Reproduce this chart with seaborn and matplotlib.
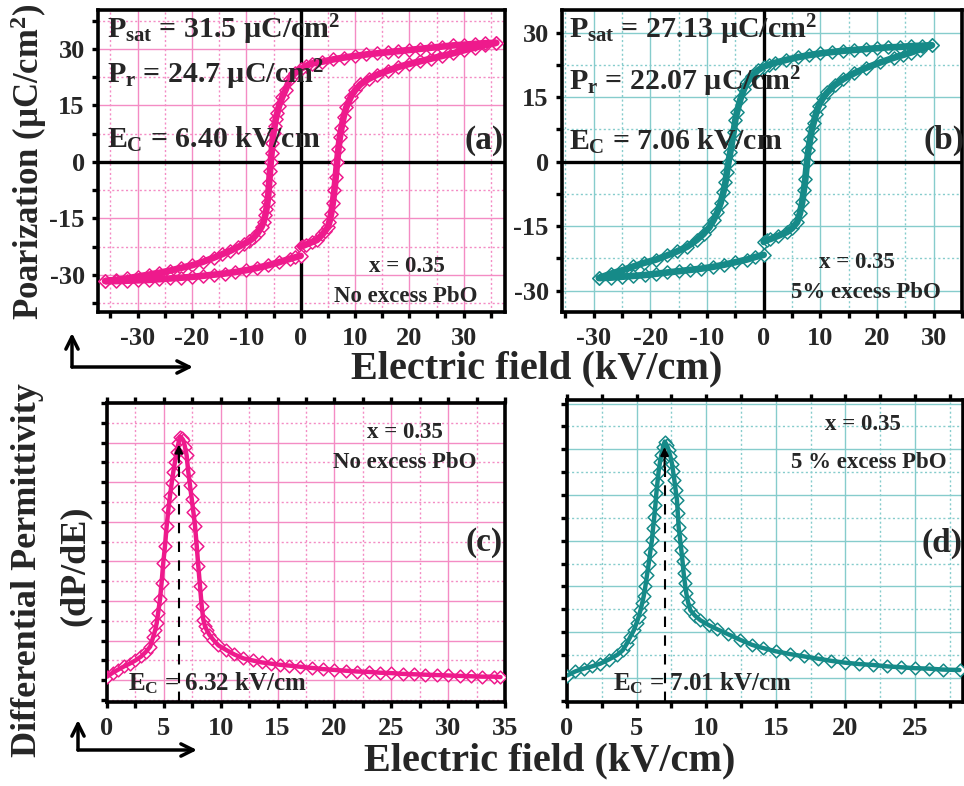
import numpy as np
import pandas as pd
import matplotlib
matplotlib.use("Agg")
import matplotlib.pyplot as plt
from matplotlib.ticker import MultipleLocator, NullFormatter
from matplotlib.patches import FancyArrowPatch
import seaborn as sns

# ---------------- data ----------------
# (a) x = 0.35, no excess PbO : P-E loop, measured 0 -> +Emax -> -Emax -> 0
E_a_up1 = [0, 0.5, 1, 2, 3, 4, 4.5, 5, 5.3, 5.6, 5.9, 6.2, 6.45, 6.7, 6.95, 7.2, 7.5, 7.9, 8.4, 9.2,
           10, 11, 12.5, 14, 16, 18, 20, 22, 24, 26, 28, 30, 32, 34, 36]
P_a_up1 = [-22.5, -22.2, -21.9, -21.3, -20.7, -19.2, -18.3, -17.3, -15.8, -13.8, -11.0, -7.5, -4.0, 0, 3.5,
           6.5, 9.0, 12.0, 14.5, 17.2, 19.0, 20.6, 22.0, 23.1, 24.2, 25.2, 26.0, 26.7, 27.4, 28.1,
           28.8, 29.6, 30.3, 31.0, 31.6]
E_a_down = [36, 34, 32, 30, 28, 26, 24, 22, 20, 18, 16, 14, 12, 10, 8, 6, 4, 2, 1, 0,
            -1, -2, -2.75, -3.4, -4.0, -4.3, -4.6, -4.8, -5.0, -5.2, -5.35, -5.5, -5.65, -5.8, -5.95,
            -6.1, -6.3, -6.5, -6.8, -7.2, -7.9, -8.6, -9.5, -10.5, -11.6, -13, -14.5, -16, -18, -20,
            -22, -24, -26, -28, -30, -32, -34, -36]
P_a_down = [31.6, 31.5, 31.3, 31.1, 30.9, 30.6, 30.3, 30.0, 29.7, 29.4, 29.1, 28.8, 28.5, 28.1, 27.7,
            27.2, 26.6, 26.1, 25.5, 24.7, 23.6, 22.0, 19.2, 17.2, 14.8, 13.0, 11.3, 9.5, 7.8, 5.0,
            2.5, 0, -2.5, -5.5, -8.5, -10.5, -12.5, -14.0, -15.8, -17.2, -18.8, -20.0, -21.0, -21.8,
            -22.6, -23.6, -24.5, -25.4, -26.5, -27.4, -28.1, -28.8, -29.4, -29.9, -30.4, -30.9,
            -31.3, -31.6]
E_a_up2 = [-36, -34, -32, -30, -28, -26, -24, -22, -20, -18, -16, -14, -12, -10, -8, -6, -4, -2, -1, 0]
P_a_up2 = [-31.6, -31.6, -31.5, -31.4, -31.3, -31.1, -30.9, -30.7, -30.5, -30.2, -29.9, -29.6, -29.2,
           -28.7, -28.1, -27.4, -26.6, -25.7, -25.3, -24.9]

# (b) x = 0.35, 5% excess PbO : P-E loop
E_b_up1 = [0, 0.5, 1.2, 2.5, 4.1, 5.0, 5.9, 6.4, 6.8, 7.1, 7.35, 7.65, 7.9, 8.2, 8.5, 8.8, 9.2, 9.7,
           10.4, 11.2, 12.5, 14, 16, 18, 20.6, 23, 24.5, 26, 27.5, 29.7]
P_b_up1 = [-18.7, -18.3, -18.0, -17.3, -16.4, -15.5, -14.1, -12.0, -9.4, -6.5, -4.0, 0, 2.8, 5.3, 7.5,
           9.0, 11.0, 13.0, 14.7, 16.1, 17.8, 19.2, 20.6, 21.8, 23.1, 24.2, 24.8, 25.4, 26.1, 27.1]
E_b_down = [29.7, 28, 26, 24, 22, 20, 18, 16, 14, 12, 10, 8, 6, 4, 2, 1, 0, -1, -2, -2.9, -3.5, -4.1,
            -4.7, -5.0, -5.3, -5.6, -5.9, -6.2, -6.5, -6.75, -7.1, -7.6, -8.2, -8.8, -9.6, -10.6,
            -11.8, -13.5, -15.3, -17, -19, -21.2, -23, -25, -27, -29.1]
P_b_down = [27.1, 27.0, 26.9, 26.7, 26.6, 26.4, 26.2, 26.0, 25.8, 25.5, 25.2, 24.8, 24.3, 23.7, 23.0,
            22.6, 22.1, 21.3, 20.0, 18.5, 16.8, 14.6, 11.6, 9.8, 7.0, 4.5, 2.2, 0, -2.5, -4.8, -7.0,
            -9.6, -11.8, -13.5, -15.3, -16.8, -18.2, -19.8, -20.9, -21.8, -22.8, -23.6, -24.4,
            -25.3, -26.1, -27.1]
E_b_up2 = [-29.1, -27, -25, -23, -21, -19, -17, -15, -13, -11, -9, -7, -5, -3, -1.5, 0]
P_b_up2 = [-27.1, -27.0, -26.8, -26.6, -26.4, -26.1, -25.8, -25.5, -25.2, -24.9, -24.5, -24.0, -23.4,
           -22.8, -22.2, -21.7]

# (c) dP/dE, no excess PbO (arbitrary units)
E_c = [0, 0.5, 1.0, 1.5, 2.0, 2.5, 3.0, 3.4, 3.8, 4.07, 4.25, 4.37, 4.5, 4.66, 4.8, 4.95, 5.1, 5.25,
       5.4, 5.54, 5.69, 5.83, 5.98, 6.13, 6.28, 6.42, 6.56, 6.71, 6.85, 7.0, 7.15, 7.3, 7.45, 7.6,
       7.74, 7.89, 8.03, 8.18, 8.33, 8.47, 8.6, 8.77, 9.0, 9.35, 9.8, 10.5, 11.2, 12, 12.8, 13.6,
       14.4, 15.2, 16, 17, 18, 19, 20, 21, 22, 23, 24, 25, 26, 27, 28, 29, 30, 31, 32, 33, 34, 34.6]
D_c = [0.09, 0.19, 0.27, 0.35, 0.42, 0.50, 0.60, 0.71, 0.85, 1.10, 1.28, 1.44, 1.70, 2.04, 2.46,
       2.97, 3.39, 3.90, 4.32, 4.66, 4.98, 5.26, 5.52, 5.76, 5.98, 6.15, 6.12, 6.06, 5.90, 5.68,
       5.26, 4.92, 4.58, 4.24, 3.90, 3.39, 2.88, 2.37, 1.87, 1.53, 1.38, 1.27, 1.15, 1.02, 0.88,
       0.76, 0.65, 0.55, 0.50, 0.45, 0.42, 0.39, 0.37, 0.34, 0.31, 0.28, 0.26, 0.24, 0.22, 0.21,
       0.19, 0.18, 0.16, 0.15, 0.14, 0.13, 0.12, 0.11, 0.10, 0.09, 0.09, 0.08]

# (d) dP/dE, 5 % excess PbO (arbitrary units)
E_d = [0, 0.6, 1.2, 1.8, 2.4, 3.0, 3.6, 4.0, 4.3, 4.55, 4.8, 5.0, 5.15, 5.28, 5.4, 5.52, 5.63, 5.75,
       5.87, 5.98, 6.1, 6.18, 6.27, 6.35, 6.42, 6.5, 6.58, 6.68, 6.78, 6.9, 7.02, 7.16, 7.3, 7.42,
       7.54, 7.62, 7.71, 7.8, 7.9, 7.96, 8.02, 8.12, 8.21, 8.3, 8.38, 8.47, 8.57, 8.7, 8.86, 9.2,
       9.58, 10.2, 10.8, 11.6, 12.45, 13.3, 14.1, 15, 16, 17, 18, 19, 20, 21, 22, 23, 24, 25, 26,
       27, 28.2]
D_d = [0.05, 0.14, 0.20, 0.25, 0.31, 0.40, 0.50, 0.60, 0.75, 0.90, 1.04, 1.20, 1.34, 1.48, 1.63,
       1.80, 2.00, 2.25, 2.50, 2.75, 3.01, 3.27, 3.52, 3.78, 4.04, 4.28, 4.51, 4.72, 4.88, 5.05,
       5.17, 5.10, 4.99, 4.85, 4.69, 4.52, 4.33, 4.12, 3.89, 3.60, 3.31, 3.05, 2.80, 2.55, 2.29,
       2.07, 1.85, 1.65, 1.48, 1.36, 1.26, 1.15, 1.06, 0.95, 0.83, 0.72, 0.65, 0.58, 0.52, 0.47,
       0.42, 0.37, 0.33, 0.30, 0.28, 0.25, 0.23, 0.21, 0.20, 0.18, 0.17]

Ec_c = 6.32
Ec_d = 7.01

# tick labels
loop_xticks = [-30, -20, -10, 0, 10, 20, 30]
loop_yticks = [-30, -15, 0, 15, 30]
c_xticks = [0, 5, 10, 15, 20, 25, 30, 35]
d_xticks = [0, 5, 10, 15, 20, 25]

# ---------------- style ----------------
sns.set_style("ticks")
plt.rcParams["font.family"] = ["Liberation Serif", "DejaVu Serif"]
plt.rcParams["font.weight"] = "bold"
plt.rcParams["axes.unicode_minus"] = False
plt.rcParams["mathtext.fontset"] = "custom"
plt.rcParams["mathtext.rm"] = "Liberation Serif:bold"
plt.rcParams["mathtext.it"] = "Liberation Serif:bold"
plt.rcParams["mathtext.bf"] = "Liberation Serif:bold"

PINK = "#EE1A8C"
PINK_GRID = "#F48CC4"
TEAL = "#168A88"
TEAL_GRID = "#86CCCC"

W, H = 964, 786
fig = plt.figure(figsize=(W / 100, H / 100), dpi=100)


def box(l, t, r, b):
    return [l / W, 1 - b / H, (r - l) / W, (b - t) / H]


def F(x, y):
    return x / W, 1 - y / H


def style_axes(ax, grid_color, top_ticks):
    ax.set_axisbelow(True)
    ax.grid(which="major", color=grid_color, lw=1.0, ls="-")
    ax.grid(which="minor", color=grid_color, lw=1.0, ls=(0, (1.5, 1.8)))
    for sp in ax.spines.values():
        sp.set_linewidth(2.6)
        sp.set_color("black")
    ax.tick_params(which="both", direction="out", width=2.4, length=4.5, color="black",
                   top=top_ticks, right=False, labeltop=False)
    ax.tick_params(which="major", labelsize=19, pad=5)
    ax.tick_params(axis="x", which="major", pad=6)
    ax.set_xlabel("")
    ax.set_ylabel("")


def draw_series(ax, E, P, color, lw, s):
    df = pd.DataFrame({"E": E, "P": P})
    sns.scatterplot(data=df, x="E", y="P", ax=ax, marker="D", s=s, color="white",
                    edgecolor=color, linewidth=1.1, zorder=3, legend=False)
    sns.lineplot(data=df, x="E", y="P", ax=ax, sort=False, estimator=None, color=color,
                 lw=lw, zorder=4, legend=False)


# ---------------- (a) ----------------
ax_a = fig.add_axes(box(98, 10, 505, 312))
ax_a.axhline(0, color="black", lw=2.4, zorder=2)
ax_a.axvline(0, color="black", lw=2.4, zorder=2)
draw_series(ax_a, E_a_up1 + E_a_down + E_a_up2, P_a_up1 + P_a_down + P_a_up2, PINK, 4.8, 45)
ax_a.set_xlim(-37.3, 37.6)
ax_a.set_ylim(-39.8, 40.3)
ax_a.set_xticks(loop_xticks)
ax_a.set_xticklabels([str(v) for v in loop_xticks])
ax_a.set_yticks(loop_yticks)
ax_a.set_yticklabels([str(v) for v in loop_yticks])
ax_a.xaxis.set_minor_locator(MultipleLocator(5))
ax_a.yaxis.set_minor_locator(MultipleLocator(7.5))
style_axes(ax_a, PINK_GRID, False)

# ---------------- (b) ----------------
ax_b = fig.add_axes(box(562, 10, 962, 312))
ax_b.axhline(0, color="black", lw=2.4, zorder=2)
ax_b.axvline(0, color="black", lw=2.4, zorder=2)
draw_series(ax_b, E_b_up1 + E_b_down + E_b_up2, P_b_up1 + P_b_down + P_b_up2, TEAL, 4.8, 45)
ax_b.set_xlim(-35.6, 35.0)
ax_b.set_ylim(-35.0, 35.3)
ax_b.set_xticks(loop_xticks)
ax_b.set_xticklabels([str(v) for v in loop_xticks])
ax_b.set_yticks(loop_yticks)
ax_b.set_yticklabels([str(v) for v in loop_yticks])
ax_b.xaxis.set_minor_locator(MultipleLocator(5))
ax_b.yaxis.set_minor_locator(MultipleLocator(7.5))
style_axes(ax_b, TEAL_GRID, False)

# ---------------- (c) ----------------
ax_c = fig.add_axes(box(107, 403, 505, 702))
ax_c.plot([Ec_c, Ec_c], [-0.55, 5.75], color="black", lw=1.5, ls=(0, (5, 4)), zorder=5)
ax_c.annotate("", xy=(Ec_c, 5.95), xytext=(Ec_c, 5.5),
              arrowprops=dict(arrowstyle="-|>", color="black", lw=1.5, mutation_scale=12,
                              shrinkA=0, shrinkB=0), zorder=6)
draw_series(ax_c, E_c, D_c, PINK, 3.2, 42)
ax_c.set_xlim(0, 35)
ax_c.set_ylim(-0.55, 7.0)
ax_c.set_xticks(c_xticks)
ax_c.set_xticklabels([str(v) for v in c_xticks])
ax_c.xaxis.set_minor_locator(MultipleLocator(2.5))
ax_c.yaxis.set_major_locator(MultipleLocator(1))
ax_c.yaxis.set_minor_locator(MultipleLocator(0.5))
ax_c.yaxis.set_major_formatter(NullFormatter())
style_axes(ax_c, PINK_GRID, True)

# ---------------- (d) ----------------
ax_d = fig.add_axes(box(567, 400, 963, 702))
ax_d.plot([Ec_d, Ec_d], [-0.53, 4.85], color="black", lw=1.5, ls=(0, (5, 4)), zorder=5)
ax_d.annotate("", xy=(Ec_d, 5.05), xytext=(Ec_d, 4.6),
              arrowprops=dict(arrowstyle="-|>", color="black", lw=1.5, mutation_scale=12,
                              shrinkA=0, shrinkB=0), zorder=6)
draw_series(ax_d, E_d, D_d, TEAL, 3.2, 42)
ax_d.set_xlim(0, 28.45)
ax_d.set_ylim(-0.53, 6.08)
ax_d.set_xticks(d_xticks)
ax_d.set_xticklabels([str(v) for v in d_xticks])
ax_d.xaxis.set_minor_locator(MultipleLocator(2.5))
ax_d.yaxis.set_major_locator(MultipleLocator(1))
ax_d.yaxis.set_minor_locator(MultipleLocator(0.5))
ax_d.yaxis.set_major_formatter(NullFormatter())
style_axes(ax_d, TEAL_GRID, True)

# ---------------- annotations ----------------
PF = 21.5
fig.text(*F(107, 38), r"$P_{sat}$ = 31.5 µC/cm$^{2}$", fontsize=PF, va="baseline", ha="left")
fig.text(*F(107, 83), r"$P_{r}$ = 24.7 µC/cm$^{2}$", fontsize=PF, va="baseline", ha="left")
fig.text(*F(107, 148), r"$E_{C}$ = 6.40 kV/cm", fontsize=PF, va="baseline", ha="left")
fig.text(*F(569, 38), r"$P_{sat}$ = 27.13 µC/cm$^{2}$", fontsize=PF, va="baseline", ha="left")
fig.text(*F(569, 90), r"$P_{r}$ = 22.07 µC/cm$^{2}$", fontsize=PF, va="baseline", ha="left")
fig.text(*F(569, 150), r"$E_{C}$ = 7.06 kV/cm", fontsize=PF, va="baseline", ha="left")

LF = 24
fig.text(*F(484, 140), "(a)", fontsize=LF, ha="center", va="center")
fig.text(*F(944, 140), "(b)", fontsize=LF, ha="center", va="center")
fig.text(*F(484, 543), "(c)", fontsize=LF, ha="center", va="center")
fig.text(*F(942, 543), "(d)", fontsize=LF, ha="center", va="center")

SF = 16.5
fig.text(*F(407, 267), "x = 0.35", fontsize=SF, ha="center", va="center")
fig.text(*F(406, 297), "No excess PbO", fontsize=SF, ha="center", va="center")
fig.text(*F(857, 263), "x = 0.35", fontsize=SF, ha="center", va="center")
fig.text(*F(866, 293), "5% excess PbO", fontsize=SF, ha="center", va="center")
fig.text(*F(405, 433), "x = 0.35", fontsize=SF, ha="center", va="center")
fig.text(*F(405, 463), "No excess PbO", fontsize=SF, ha="center", va="center")
fig.text(*F(863, 425), "x = 0.35", fontsize=SF, ha="center", va="center")
fig.text(*F(869, 462), "5 % excess PbO", fontsize=SF, ha="center", va="center")

fig.text(*F(128, 690), r"$E_{C}$ = 6.32 kV/cm", fontsize=18, ha="left", va="baseline")
fig.text(*F(613, 690), r"$E_{C}$ = 7.01 kV/cm", fontsize=18, ha="left", va="baseline")

# axis titles
fig.text(*F(29, 162), r"Poarization (µC/cm$^{2}$)", fontsize=25, rotation=90,
         ha="center", va="center")
fig.text(*F(537, 369), "Electric field (kV/cm)", fontsize=29, ha="center", va="center")
fig.text(*F(550, 761), "Electric field (kV/cm)", fontsize=29, ha="center", va="center")
fig.text(*F(28, 570), "Differential Permittivity", fontsize=26, rotation=90,
         ha="center", va="center")
fig.text(*F(75, 566), "(dP/dE)", fontsize=26, rotation=90, ha="center", va="center")

# corner arrows
for (cx, cy, ty, tx) in [(72, 367, 333, 193), (78, 750, 720, 197)]:
    for end in [(cx, ty), (tx, cy)]:
        fig.add_artist(FancyArrowPatch(F(cx, cy), F(*end), transform=fig.transFigure,
                                       arrowstyle="->", mutation_scale=22, lw=2.5,
                                       color="black", shrinkA=0, shrinkB=0))

fig.savefig("out.png", dpi=100)
